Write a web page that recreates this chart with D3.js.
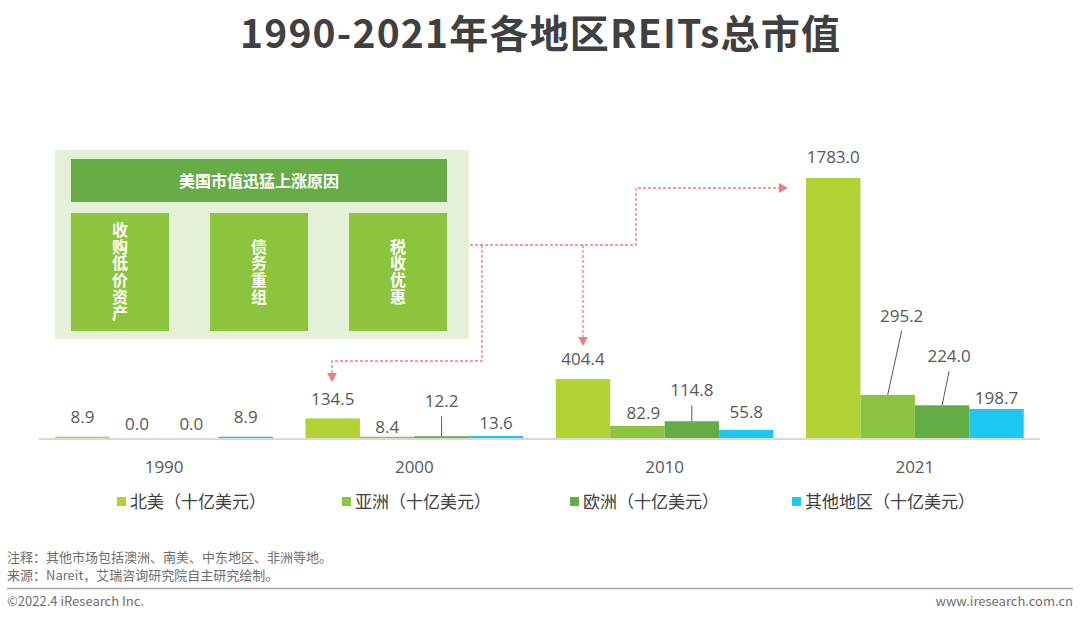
<!DOCTYPE html>
<html><head><meta charset="utf-8">
<script src="https://cdn.jsdelivr.net/npm/d3@7/dist/d3.min.js"></script>
<style>
html,body{margin:0;padding:0;background:#fff;}
svg{display:block;}
</style></head>
<body>
<svg id="chart" width="1080" height="623"></svg>
<script>
// ---------- data ----------
const years = ["1990", "2000", "2010", "2021"];
const seriesNames = ["北美（十亿美元）", "亚洲（十亿美元）", "欧洲（十亿美元）", "其他地区（十亿美元）"];
const northAmerica = [8.9, 134.5, 404.4, 1783.0];
const asia = [0.0, 8.4, 82.9, 295.2];
const europe = [0.0, 12.2, 114.8, 224.0];
const other = [8.9, 13.6, 55.8, 198.7];
const reasonTitle = "美国市值迅猛上涨原因";
const reasons = ["收购低价资产", "债务重组", "税收优惠"];
const titleText = "1990-2021年各地区REITs总市值";
const noteLines = ["注释：其他市场包括澳洲、南美、中东地区、非洲等地。", "来源：Nareit，艾瑞咨询研究院自主研究绘制。"];
const copyright = "©2022.4 iResearch Inc.";
const website = "www.iresearch.com.cn";

// ---------- styles / layout ----------
const colors = ["#b3d234", "#8cc43f", "#62ad44", "#1ec8f0"];
const seriesValues = [northAmerica, asia, europe, other];
const numFont = "'Open Sans','Noto Sans CJK SC',sans-serif";
const cjkFont = "'Noto Sans CJK SC','Noto Sans',sans-serif";

const svg = d3.select("#chart");

// title
svg.append("text").attr("x", 540).attr("y", 48).attr("text-anchor", "middle")
  .attr("font-family", cjkFont).attr("font-weight", 700).attr("font-size", 39)
  .attr("textLength", 600).attr("lengthAdjust", "spacing")
  .attr("fill", "#404040").text(titleText);

// scales
const baseY = 438;
const y = d3.scaleLinear().domain([0, 1783]).range([baseY, 178]);
const x0 = d3.scaleBand().domain(years).range([39, 1040]).paddingInner(0.13).paddingOuter(0.065);
const x1 = d3.scaleBand().domain(d3.range(4)).range([0, x0.bandwidth()]).padding(0);

// axis line
svg.append("line").attr("x1", 39).attr("x2", 1040).attr("y1", baseY + 1).attr("y2", baseY + 1)
  .attr("stroke", "#d9d9d9").attr("stroke-width", 2);

// bars
const barData = [];
years.forEach((yr, i) => {
  seriesValues.forEach((arr, s) => barData.push({ year: yr, s: s, v: arr[i] }));
});
svg.append("g").selectAll("rect").data(barData).join("rect")
  .attr("x", d => x0(d.year) + x1(d.s))
  .attr("width", x1.bandwidth())
  .attr("y", d => y(d.v))
  .attr("height", d => baseY - y(d.v))
  .attr("fill", d => colors[d.s]);

// label placement tweaks (lift = distance from bar top to label centre)
const labelLayout = {
  "1990|0": { lift: 20 }, "1990|1": { lift: 14 }, "1990|2": { lift: 14 }, "1990|3": { lift: 20 },
  "2000|0": { lift: 20 }, "2000|1": { lift: 10 }, "2000|2": { lift: 35, leader: true }, "2000|3": { lift: 13 },
  "2010|0": { lift: 20 }, "2010|1": { lift: 13, dx: 6 }, "2010|2": { lift: 31, leader: true }, "2010|3": { lift: 18 },
  "2021|0": { lift: 21 }, "2021|1": { lift: 79, dx: 14, leader: true }, "2021|2": { lift: 49, dx: 7, leader: true }, "2021|3": { lift: 11 }
};
const gl = svg.append("g");
barData.forEach(d => {
  const L = labelLayout[d.year + "|" + d.s] || { lift: 18 };
  const cx = x0(d.year) + x1(d.s) + x1.bandwidth() / 2;
  const top = y(d.v);
  const lx = cx + (L.dx || 0);
  const ly = top - L.lift;
  if (L.leader) {
    gl.append("line").attr("x1", lx).attr("y1", ly + 15).attr("x2", cx).attr("y2", top)
      .attr("stroke", "#595959").attr("stroke-width", 1);
  }
  gl.append("text").attr("x", lx).attr("y", ly).attr("dy", "0.36em").attr("text-anchor", "middle")
    .attr("font-family", numFont).attr("font-size", 17).attr("fill", "#595959")
    .text(d3.format(".1f")(d.v));
});

// category labels
svg.append("g").selectAll("text").data(years).join("text")
  .attr("x", d => x0(d) + x0.bandwidth() / 2).attr("y", 467).attr("dy", "0.36em")
  .attr("text-anchor", "middle").attr("font-family", numFont).attr("font-size", 17)
  .attr("fill", "#595959").text(d => d);

// legend
const legX = [117, 342, 570, 792];
const lg = svg.append("g");
seriesNames.forEach((n, i) => {
  lg.append("rect").attr("x", legX[i]).attr("y", 497).attr("width", 9).attr("height", 9).attr("fill", colors[i]);
  lg.append("text").attr("x", legX[i] + 13).attr("y", 502).attr("dy", "0.36em")
    .attr("font-family", cjkFont).attr("font-size", 17).attr("fill", "#404040").text(n);
});

// annotation box
const ab = svg.append("g");
ab.append("rect").attr("x", 55).attr("y", 150).attr("width", 414).attr("height", 189).attr("fill", "#e5f0d9");
ab.append("rect").attr("x", 71).attr("y", 159).attr("width", 376).attr("height", 43).attr("fill", "#65ad44");
ab.append("text").attr("x", 259).attr("y", 181).attr("dy", "0.36em").attr("text-anchor", "middle")
  .attr("font-family", cjkFont).attr("font-weight", 700).attr("font-size", 16).attr("fill", "#fff").text(reasonTitle);
const boxX = d3.scalePoint().domain(d3.range(reasons.length)).range([71, 349]);
reasons.forEach((r, i) => {
  const bx = boxX(i);
  ab.append("rect").attr("x", bx).attr("y", 213).attr("width", 98).attr("height", 118).attr("fill", "#8cc43e");
  ab.append("text").attr("x", bx + 49).attr("y", 272)
    .attr("writing-mode", "tb").style("writing-mode", "vertical-rl").style("text-orientation", "upright")
    .attr("letter-spacing", 0.7)
    .attr("text-anchor", "middle").attr("font-family", cjkFont).attr("font-weight", 700)
    .attr("font-size", 16).attr("fill", "#fff").text(r);
});

// dashed arrows
const pink = "#ee7c88";
const ag = svg.append("g").attr("fill", "none").attr("stroke", pink).attr("stroke-width", 1.3).attr("stroke-dasharray", "3,2");
ag.append("path").attr("d", "M470,245 H636 V188 H779");
ag.append("path").attr("d", "M583,245 V338");
ag.append("path").attr("d", "M482,245 V361 H332 V374");
const tri = svg.append("g").attr("fill", pink);
tri.append("path").attr("d", "M779,183 L788,188 L779,193 Z");
tri.append("path").attr("d", "M578,337 L588,337 L583,346 Z");
tri.append("path").attr("d", "M327,373 L337,373 L332,382 Z");

// footer
noteLines.forEach((t, i) => {
  svg.append("text").attr("x", 7).attr("y", 557 + i * 18).attr("dy", "0.36em")
    .attr("font-family", cjkFont).attr("font-size", 13).attr("fill", "#6e6e6e").text(t);
});
svg.append("line").attr("x1", 7).attr("x2", 1073).attr("y1", 588.5).attr("y2", 588.5)
  .attr("stroke", "#a6a6a6").attr("stroke-width", 1.5);
svg.append("text").attr("x", 7).attr("y", 601).attr("dy", "0.36em")
  .attr("font-family", cjkFont).attr("font-size", 13).attr("fill", "#6e6e6e").text(copyright);
svg.append("text").attr("x", 1073).attr("y", 601).attr("dy", "0.36em").attr("text-anchor", "end")
  .attr("font-family", cjkFont).attr("font-size", 13).attr("fill", "#6e6e6e").text(website);
</script>
</body></html>
